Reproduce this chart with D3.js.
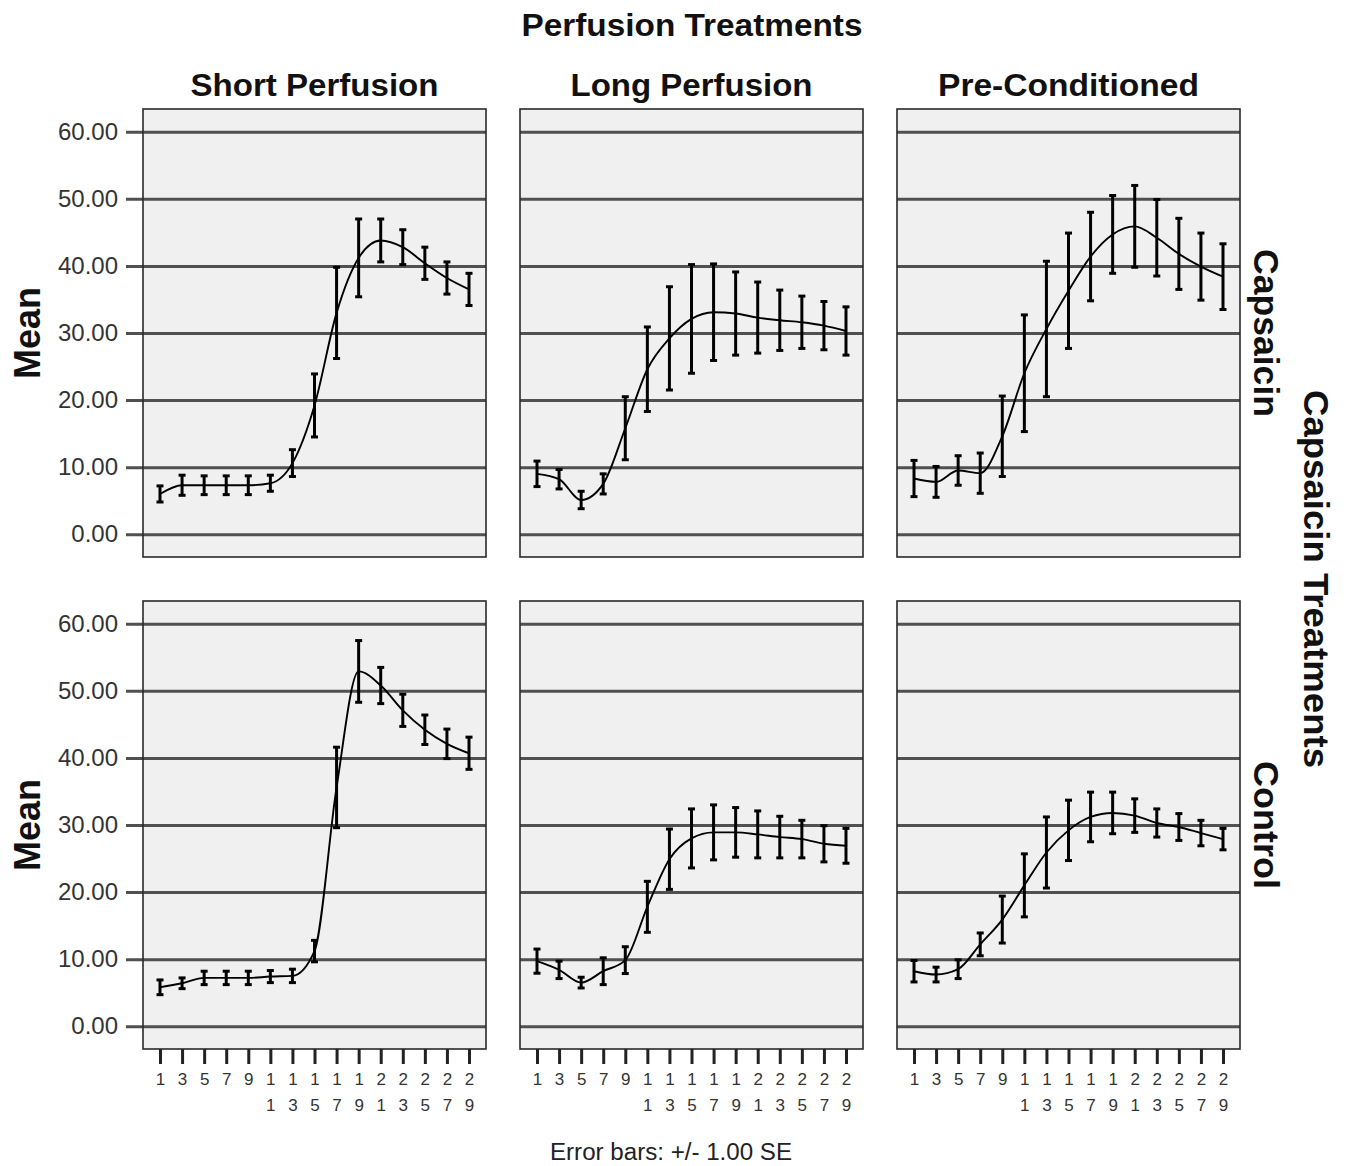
<!DOCTYPE html>
<html>
<head>
<meta charset="utf-8">
<script src="https://cdn.jsdelivr.net/npm/d3@7/dist/d3.min.js"></script>
<style>
  html, body { margin: 0; padding: 0; background: #ffffff; }
  svg { display: block; }
  text { font-family: "Liberation Sans", Arial, sans-serif; }
</style>
</head>
<body>
<svg id="chart" width="1349" height="1166"></svg>
<script>
// Measurement times (x axis) and facet categories
const timePoints = [1, 3, 5, 7, 9, 11, 13, 15, 17, 19, 21, 23, 25, 27, 29];
const perfusionTreatments = ["Short Perfusion", "Long Perfusion", "Pre-Conditioned"];
const capsaicinTreatments = ["Capsaicin", "Control"];
const yTicks = [0, 10, 20, 30, 40, 50, 60];

// Capsaicin row: means and standard errors per perfusion treatment
const capsaicinShortMean = [6.0, 7.3, 7.3, 7.3, 7.3, 7.6, 10.6, 19.2, 33.0, 41.2, 43.8, 42.8, 40.4, 38.2, 36.5];
const capsaicinShortSE   = [1.2, 1.5, 1.4, 1.4, 1.4, 1.2, 2.0, 4.7, 6.8, 5.8, 3.2, 2.6, 2.4, 2.4, 2.4];
const capsaicinLongMean  = [9.0, 8.2, 5.1, 7.5, 15.8, 24.6, 29.2, 32.1, 33.1, 32.9, 32.3, 31.9, 31.6, 31.1, 30.3];
const capsaicinLongSE    = [1.9, 1.45, 1.3, 1.5, 4.7, 6.3, 7.7, 8.1, 7.2, 6.2, 5.3, 4.5, 3.9, 3.6, 3.6];
const capsaicinPreMean   = [8.3, 7.8, 9.5, 9.1, 14.6, 24.0, 30.6, 36.3, 41.4, 44.7, 45.9, 44.2, 41.8, 39.9, 38.4];
const capsaicinPreSE     = [2.7, 2.3, 2.2, 3.0, 6.0, 8.7, 10.1, 8.6, 6.6, 5.8, 6.1, 5.7, 5.3, 5.0, 4.9];

// Control row: means and standard errors per perfusion treatment
const controlShortMean = [5.8, 6.4, 7.2, 7.2, 7.2, 7.4, 7.5, 11.2, 35.6, 52.9, 50.8, 47.1, 44.2, 42.1, 40.7];
const controlShortSE   = [1.1, 0.8, 1.0, 1.0, 1.0, 0.9, 1.0, 1.6, 6.0, 4.6, 2.7, 2.4, 2.2, 2.2, 2.4];
const controlLongMean  = [9.7, 8.4, 6.5, 8.2, 9.85, 17.8, 24.9, 28.0, 28.9, 28.9, 28.6, 28.2, 27.9, 27.2, 26.9];
const controlLongSE    = [1.8, 1.3, 0.8, 2.0, 2.0, 3.8, 4.5, 4.4, 4.1, 3.7, 3.5, 3.1, 2.8, 2.7, 2.6];
const controlPreMean   = [8.2, 7.7, 8.5, 12.2, 15.9, 21.0, 25.9, 29.2, 31.2, 31.8, 31.4, 30.3, 29.7, 28.8, 27.9];
const controlPreSE     = [1.6, 1.1, 1.4, 1.7, 3.5, 4.7, 5.3, 4.5, 3.7, 3.1, 2.5, 2.1, 2.0, 1.9, 1.6];

// Grid of panels: rows = capsaicin treatment, columns = perfusion treatment
const panelMeans = [
  [capsaicinShortMean, capsaicinLongMean, capsaicinPreMean],
  [controlShortMean, controlLongMean, controlPreMean]
];
const panelSEs = [
  [capsaicinShortSE, capsaicinLongSE, capsaicinPreSE],
  [controlShortSE, controlLongSE, controlPreSE]
];

// Layout
const colX = [143, 520, 897];
const rowY = [109, 601];
const panelW = 343;
const panelH = 448;
const inset = 17;

const svg = d3.select("#chart");

const x = d3.scaleLinear().domain([1, 29]).range([inset, panelW - inset]);
const y = d3.scaleLinear().domain([-3.4, 63.4]).range([panelH, 0]);

const line = d3.line()
  .x(d => x(d.t))
  .y(d => y(d.mean))
  .curve(d3.curveMonotoneX);

capsaicinTreatments.forEach((rowName, r) => {
  perfusionTreatments.forEach((colName, c) => {
    const g = svg.append("g").attr("transform", `translate(${colX[c]},${rowY[r]})`);
    const rows = timePoints.map((t, i) => ({ t, mean: panelMeans[r][c][i], se: panelSEs[r][c][i] }));

    g.append("rect")
      .attr("width", panelW).attr("height", panelH)
      .attr("fill", "#f0f0f0");

    // Horizontal grid lines (first column also carries the value axis)
    const yAxis = d3.axisLeft(y)
      .tickValues(yTicks)
      .tickSizeOuter(0)
      .tickPadding(8);
    if (c === 0) {
      yAxis.tickSizeInner(-(panelW + inset)).tickFormat(d3.format(".2f"));
    } else {
      yAxis.tickSizeInner(-panelW).tickFormat("");
    }
    const ya = g.append("g")
      .attr("transform", `translate(${c === 0 ? -inset : 0},0)`)
      .call(yAxis);
    ya.select(".domain").remove();
    ya.selectAll(".tick line").attr("stroke", "#505050").attr("stroke-width", 3);
    ya.selectAll(".tick text")
      .attr("fill", "#333")
      .style("font-size", "24px")
      .style("font-family", "'Liberation Sans', Arial, sans-serif");

    // Panel frame
    g.append("rect")
      .attr("width", panelW).attr("height", panelH)
      .attr("fill", "none")
      .attr("stroke", "#2a2a2a")
      .attr("stroke-width", 1.6);

    // Error bars (+/- 1 SE)
    const bars = g.append("g").selectAll("g").data(rows).join("g");
    bars.append("line")
      .attr("x1", d => x(d.t)).attr("x2", d => x(d.t))
      .attr("y1", d => y(d.mean - d.se)).attr("y2", d => y(d.mean + d.se))
      .attr("stroke", "#000").attr("stroke-width", 3);
    [-1, 1].forEach(s => {
      bars.append("line")
        .attr("x1", d => x(d.t) - 3.5).attr("x2", d => x(d.t) + 3.5)
        .attr("y1", d => y(d.mean + s * d.se)).attr("y2", d => y(d.mean + s * d.se))
        .attr("stroke", "#000").attr("stroke-width", 3);
    });

    // Mean line
    g.append("path")
      .datum(rows)
      .attr("d", line)
      .attr("fill", "none")
      .attr("stroke", "#000")
      .attr("stroke-width", 1.9);

    // Time axis along the bottom row
    if (r === 1) {
      const xa = g.append("g")
        .attr("transform", `translate(0,${panelH})`)
        .call(d3.axisBottom(x).tickValues(timePoints).tickSizeInner(15).tickSizeOuter(0).tickFormat(""));
      xa.select(".domain").remove();
      xa.selectAll(".tick line").attr("stroke", "#222").attr("stroke-width", 3);
      xa.selectAll(".tick").each(function (t) {
        const digits = String(t).split("");
        d3.select(this).selectAll("text.digit")
          .data(digits)
          .join("text")
          .attr("class", "digit")
          .attr("x", 0)
          .attr("y", (d, i) => 30 + i * 26)
          .attr("dy", "0.35em")
          .attr("text-anchor", "middle")
          .attr("fill", "#333")
          .style("font-size", "17px")
          .text(d => d);
      });
    }

    // Column headers
    if (r === 0) {
      const headerWidths = [248, 242, 261];
      svg.append("text")
        .attr("x", colX[c] + panelW / 2)
        .attr("y", 96)
        .attr("text-anchor", "middle")
        .attr("textLength", headerWidths[c])
        .attr("lengthAdjust", "spacingAndGlyphs")
        .style("font-size", "32px")
        .style("font-weight", "bold")
        .attr("fill", "#111")
        .text(colName);
    }

    // Row strip labels on the right
    if (c === 2) {
      const stripWidths = [168, 128];
      const cy = rowY[r] + y(30);
      svg.append("text")
        .attr("transform", `translate(1254,${cy}) rotate(90)`)
        .attr("text-anchor", "middle")
        .attr("textLength", stripWidths[r])
        .attr("lengthAdjust", "spacingAndGlyphs")
        .style("font-size", "35px")
        .style("font-weight", "bold")
        .attr("fill", "#111")
        .text(rowName);
    }

    // Value axis title
    if (c === 0) {
      const cy = rowY[r] + y(30);
      svg.append("text")
        .attr("transform", `translate(40,${cy}) rotate(-90)`)
        .attr("text-anchor", "middle")
        .style("font-size", "36px")
        .style("font-weight", "bold")
        .attr("fill", "#111")
        .text("Mean");
    }
  });
});

// Overall facet titles
svg.append("text")
  .attr("x", 692).attr("y", 36)
  .attr("text-anchor", "middle")
  .attr("textLength", 341)
  .attr("lengthAdjust", "spacingAndGlyphs")
  .style("font-size", "32px")
  .style("font-weight", "bold")
  .attr("fill", "#111")
  .text("Perfusion Treatments");

svg.append("text")
  .attr("transform", "translate(1304,579) rotate(90)")
  .attr("text-anchor", "middle")
  .attr("textLength", 378)
  .attr("lengthAdjust", "spacingAndGlyphs")
  .style("font-size", "35px")
  .style("font-weight", "bold")
  .attr("fill", "#111")
  .text("Capsaicin Treatments");

// Footnote
svg.append("text")
  .attr("x", 671).attr("y", 1160)
  .attr("text-anchor", "middle")
  .attr("textLength", 242)
  .attr("lengthAdjust", "spacingAndGlyphs")
  .style("font-size", "23px")
  .attr("fill", "#222")
  .text("Error bars: +/- 1.00 SE");
</script>
</body>
</html>
